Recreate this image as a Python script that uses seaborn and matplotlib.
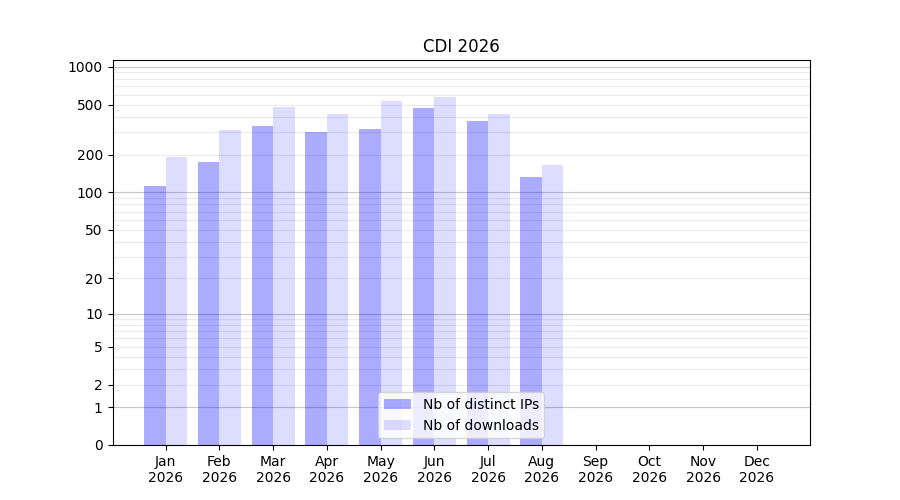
import numpy as np
import pandas as pd
import seaborn as sns
import matplotlib
matplotlib.use("Agg")
import matplotlib.pyplot as plt
from matplotlib.patches import Patch

months = ['Jan', 'Feb', 'Mar', 'Apr', 'May', 'Jun', 'Jul', 'Aug', 'Sep', 'Oct', 'Nov', 'Dec']
year = '2026'
distinct_ips = [113, 175, 335, 305, 320, 470, 370, 133, 0, 0, 0, 0]
downloads = [193, 315, 480, 420, 535, 570, 420, 165, 0, 0, 0, 0]
series_names = ['Nb of distinct IPs', 'Nb of downloads']
series_alpha = [0.33, 0.133]

y_ticks = [0, 1, 2, 5, 10, 20, 50, 100, 200, 500, 1000]

df = pd.DataFrame({
    'month': months * 2,
    'value': distinct_ips + downloads,
    'series': [series_names[0]] * 12 + [series_names[1]] * 12,
})

fig, ax = plt.subplots(figsize=(9, 5), dpi=100)

# log(x+1) scale so zero still shows
ax.set_yscale('function', functions=(lambda x: np.log10(np.maximum(x, 0) + 1),
                                     lambda y: 10 ** y - 1))

sns.barplot(data=df, x='month', y='value', hue='series', order=months,
            palette=['blue', 'blue'], saturation=1, errorbar=None, ax=ax,
            legend=False, zorder=2)
for cont, a in zip(ax.containers, series_alpha):
    for p in cont:
        p.set_alpha(a)

# grid: light lines at 2..9 x decade, darker at decades
minor = [m * 10 ** k for k in range(4) for m in range(2, 10)]
ax.set_yticks(minor, minor=True)
ax.tick_params(axis='y', which='minor', length=0)
ax.set_yticks(y_ticks)
ax.set_yticklabels([str(t) for t in y_ticks])
ax.grid(axis='y', which='both', color='#ebebeb', linewidth=0.8, zorder=0)
for d in [1, 10, 100, 1000]:
    ax.axhline(d, color='#c8c8c8', linewidth=0.8, zorder=1)
ax.set_axisbelow(True)

ax.set_ylim(0, 1130)
ax.set_xlim(-0.99, 11.99)
ax.set_xticks(range(len(months)))
ax.set_xticklabels([m + '\n' + year for m in months])
ax.set_xlabel('')
ax.set_ylabel('')
ax.set_title('CDI 2026')

handles = [Patch(facecolor='blue', alpha=a, label=n) for n, a in zip(series_names, series_alpha)]
ax.legend(handles=handles, loc='lower center')

plt.savefig('out.png')
